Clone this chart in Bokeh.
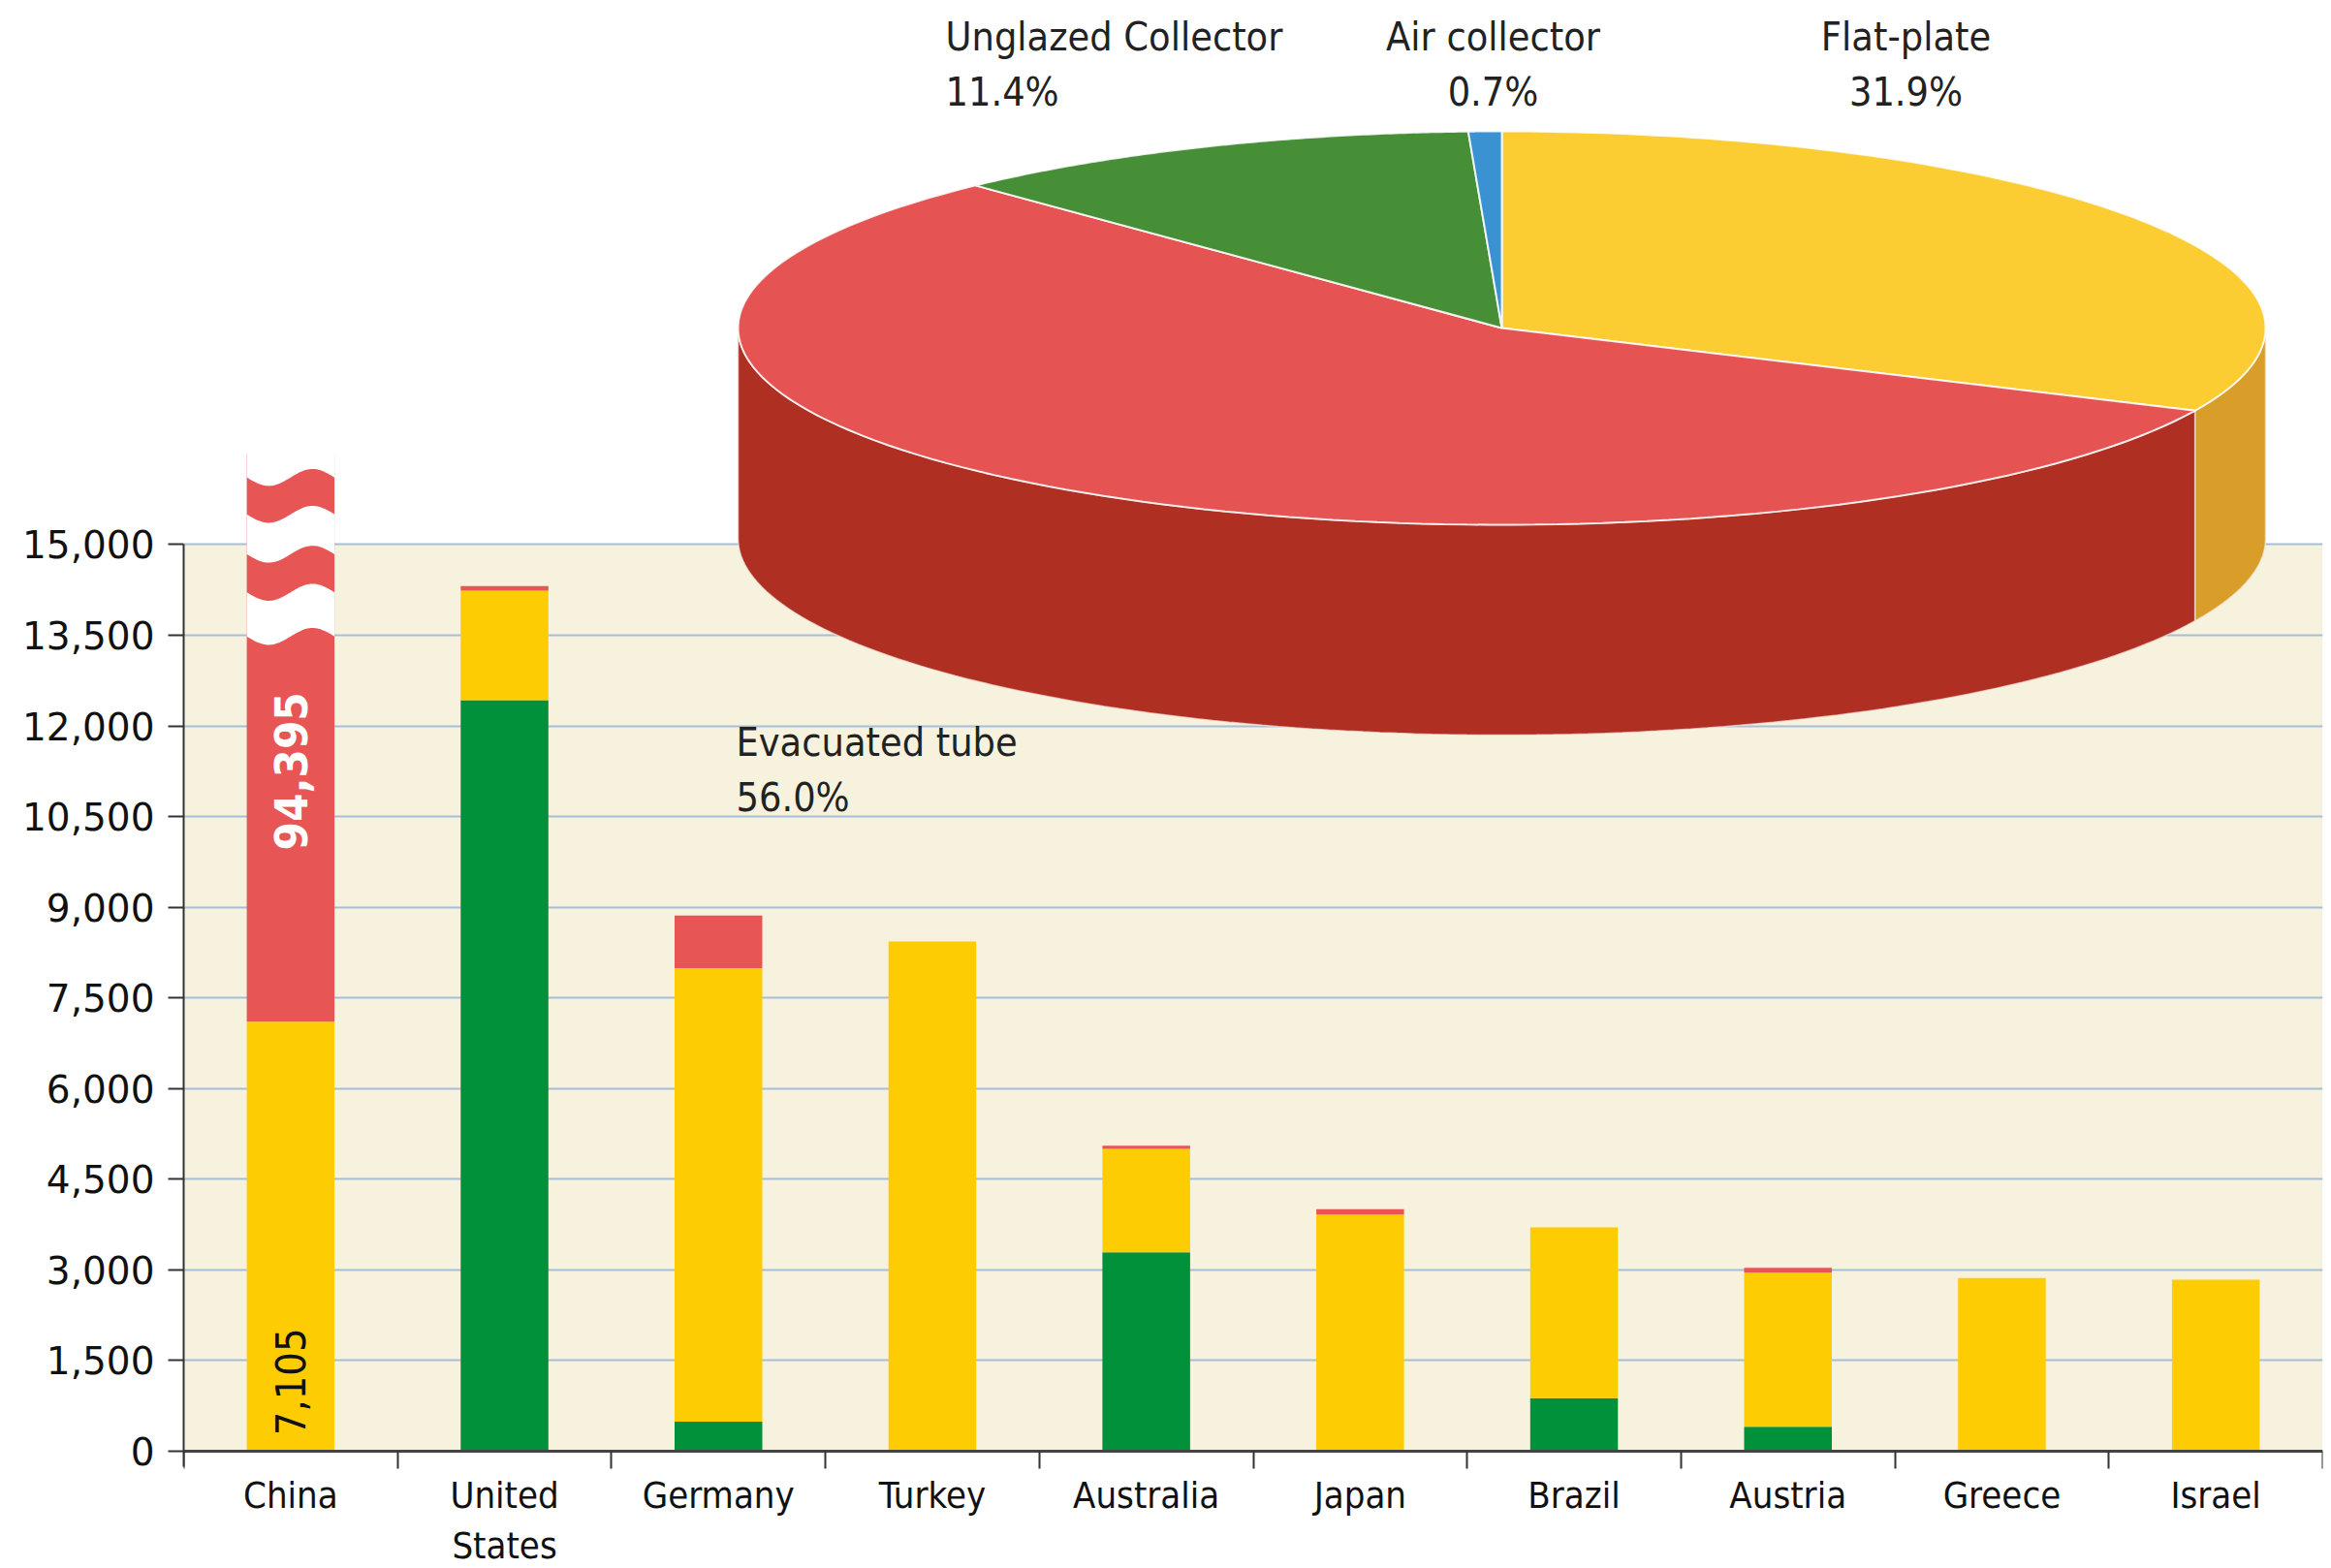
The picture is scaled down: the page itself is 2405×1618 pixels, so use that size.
import numpy as np
from bokeh.plotting import figure
from bokeh.models import Range1d, FixedTicker, NumeralTickFormatter, BoxAnnotation, ColumnDataSource
from bokeh.core.properties import value
from bokeh.embed import file_html
from bokeh.resources import INLINE

# ---------------- data ----------------
countries = ["China", "United\nStates", "Germany", "Turkey", "Australia",
             "Japan", "Brazil", "Austria", "Greece", "Israel"]
unglazed = [0, 12424, 490, 0, 3291, 0, 877, 406, 0, 0]          # green
flat_plate = [7105, 1811, 7504, 8432, 1711, 3917, 2826, 2549, 2864, 2837]  # yellow
evacuated = [94395, 80, 866, 0, 53, 86, 0, 80, 0, 0]          # red

pie_names = ["Flat-plate", "Evacuated tube", "Unglazed Collector", "Air collector"]
pie_shares = [31.9, 56.0, 11.4, 0.7]

y_ticks = list(range(0, 15001, 1500))

# ---------------- style ----------------
W, H = 2405, 1618
FL, FR = 189, 2396
ZERO_PX, TOP_PX = 1497, 561.4          # canvas rows of value 0 and of the top tick
UNIT = (ZERO_PX - TOP_PX) / y_ticks[-1]  # px per value unit
Y0 = -(H - ZERO_PX) / UNIT
Y1 = ZERO_PX / UNIT
BEIGE = "#F7F2DE"
GRID = "#A6BED8"
C_GREEN, C_YELLOW, C_RED = "#00913A", "#FECC02", "#E85555"
PIE_TOP = ["#FBCD33", "#E65353", "#468F37", "#3A92D2"]
PIE_SIDE = ["#D99D2A", "#AF2F22", "#2F6A25", "#27689A"]
COND = "'DejaVu Sans Condensed', sans-serif"
WIDE = "'DejaVu Sans', Verdana, sans-serif"
BAR_W = 0.41
BREAK_TOP = 16500   # display cap for the truncated China bar

p = figure(width=W, height=H, x_range=Range1d(-0.5, 9.5), y_range=Range1d(Y0, Y1),
           output_backend="svg", toolbar_location=None, title=None,
           min_border_left=FL, min_border_right=W - FR, min_border_top=0,
           min_border_bottom=0)
p.outline_line_color = None
p.background_fill_color = "white"
p.border_fill_color = "white"
p.extra_x_ranges = {"px": Range1d(FL, FR)}
p.extra_y_ranges = {"py": Range1d(H, 0)}

# beige plotting band
p.add_layout(BoxAnnotation(bottom=0, top=y_ticks[-1], fill_color=BEIGE, fill_alpha=1,
                           line_color=None, level="image"))

# grid
p.xgrid.visible = False
p.ygrid.ticker = FixedTicker(ticks=y_ticks[1:])
p.ygrid.grid_line_color = GRID
p.ygrid.grid_line_width = 2

# y axis
yax = p.yaxis[0]
yax.ticker = FixedTicker(ticks=y_ticks)
yax.formatter = NumeralTickFormatter(format="0,0")
yax.bounds = (-250, y_ticks[-1])
yax.axis_line_color = "#333333"
yax.axis_line_width = 2
yax.major_tick_line_color = "#333333"
yax.major_tick_line_width = 2
yax.major_tick_out = 16
yax.major_tick_in = 0
yax.minor_tick_line_color = None
yax.major_label_text_font = WIDE
yax.major_label_text_font_size = "39px"
yax.major_label_text_color = "#111111"
yax.major_label_standoff = 14

# x axis (placed at value 0 inside the tall frame)
xs_idx = list(range(len(countries)))
xax = p.xaxis[0]
xax.fixed_location = 0
xax.ticker = FixedTicker(ticks=xs_idx, minor_ticks=[i - 0.5 for i in range(len(countries) + 1)])
xax.major_label_overrides = {i: c for i, c in zip(xs_idx, countries)}
xax.axis_line_color = "#444444"
xax.axis_line_width = 3
xax.major_tick_line_color = None
xax.major_tick_out = 0
xax.major_tick_in = 0
xax.minor_tick_line_color = "#333333"
xax.minor_tick_line_width = 2
xax.minor_tick_out = 18
xax.minor_tick_in = 0
xax.major_label_text_font = COND
xax.major_label_text_font_size = "38px"
xax.major_label_text_color = "#111111"
xax.major_label_standoff = 5

# stacked bars
g = np.array(unglazed, float)
yl = np.array(flat_plate, float)
r = np.array(evacuated, float)
b0 = np.zeros_like(g)
t0 = b0 + g
t1 = t0 + yl
t2 = np.minimum(t1 + r, BREAK_TOP)
for bot, top, col in [(b0, t0, C_GREEN), (t0, t1, C_YELLOW), (t1, t2, C_RED)]:
    m = top > bot
    src = ColumnDataSource(dict(x=np.array(xs_idx)[m], bottom=bot[m], top=top[m]))
    p.vbar(x="x", bottom="bottom", top="top", width=BAR_W, source=src,
           fill_color=col, line_color=None)

# break marks on the China bar (white wavy gaps)
ci = int(np.argmax(t1 + r))
u = np.linspace(0, 1, 60)
wx = ci - BAR_W / 2 + BAR_W * u
A = 140
def wave(level):
    return level - A * np.sin(2 * np.pi * u)
gaps = [(16110, None), (15500, 14840), (14210, 13480)]
gxs, gys = [], []
for upper, lower in gaps:
    if lower is None:
        ys_low = wave(upper)
        ys_up = np.full_like(u, BREAK_TOP + 400)
    else:
        ys_up = wave(upper)
        ys_low = wave(lower)
    gxs.append(np.concatenate([wx, wx[::-1]]))
    gys.append(np.concatenate([ys_low, ys_up[::-1]]))
p.patches(gxs, gys, fill_color="white", line_color=None)

# value labels inside the China bar
p.text(x=[ci], y=[11250], text=[f"{evacuated[ci]:,}"], angle=np.pi / 2,
       text_align="center", text_baseline="middle", text_color="white",
       text_font=value(COND), text_font_size="47px", text_font_style="bold")
p.text(x=[ci], y=[1150], text=[f"{flat_plate[ci]:,}"], angle=np.pi / 2,
       text_align="center", text_baseline="middle", text_color="#111111",
       text_font=value(COND), text_font_size="43px")

# ---------------- 3D pie (canvas pixel space) ----------------
CX, CY, RX, RY, DEPTH = 1549, 338, 788, 203, 217
shares = np.array(pie_shares, float)
cum = np.concatenate([[0.0], np.cumsum(shares)]) / shares.sum()
hi = 90 - cum[:-1] * 360
lo = 90 - cum[1:] * 360

def arc(a0, a1, n=120):
    t = np.radians(np.linspace(a0, a1, n))
    return CX + RX * np.cos(t), CY - RY * np.sin(t)

side_xs, side_ys, side_cols = [], [], []
for k in range(len(shares)):
    for sh in (-360, 0, 360):
        a = max(lo[k], -180 + sh)
        b = min(hi[k], 0 + sh)
        if b > a:
            ax_, ay_ = arc(a, b)
            side_xs.append(np.concatenate([ax_, ax_[::-1]]))
            side_ys.append(np.concatenate([ay_, (ay_ + DEPTH)[::-1]]))
            side_cols.append(PIE_SIDE[k])
p.patches(side_xs, side_ys, fill_color=side_cols, line_color="#F4E9E0", line_width=1.5,
          line_alpha=0.7, x_range_name="px", y_range_name="py")

top_xs, top_ys = [], []
for k in range(len(shares)):
    ax_, ay_ = arc(hi[k], lo[k])
    top_xs.append(np.concatenate([[CX], ax_]))
    top_ys.append(np.concatenate([[CY], ay_]))
p.patches(top_xs, top_ys, fill_color=PIE_TOP, line_color="#FFFFFF", line_width=2,
          line_alpha=0.85, x_range_name="px", y_range_name="py")

# pie labels
lab_pos = {  # name: (x, y first line, align)
    "Flat-plate": (1966, 37, "center"),
    "Air collector": (1540, 37, "center"),
    "Unglazed Collector": (975, 37, "left"),
    "Evacuated tube": (759, 765, "left"),
}
LINE_GAP = 57
for name, sh in zip(pie_names, pie_shares):
    x0, y0, al = lab_pos[name]
    p.text(x=[x0, x0], y=[y0, y0 + LINE_GAP], text=[name, f"{sh:.1f}%"],
           text_align=al, text_baseline="middle", text_color="#222222",
           text_font=value(COND), text_font_size="41px",
           x_range_name="px", y_range_name="py")

open("out.html", "w").write(file_html(p, INLINE))
